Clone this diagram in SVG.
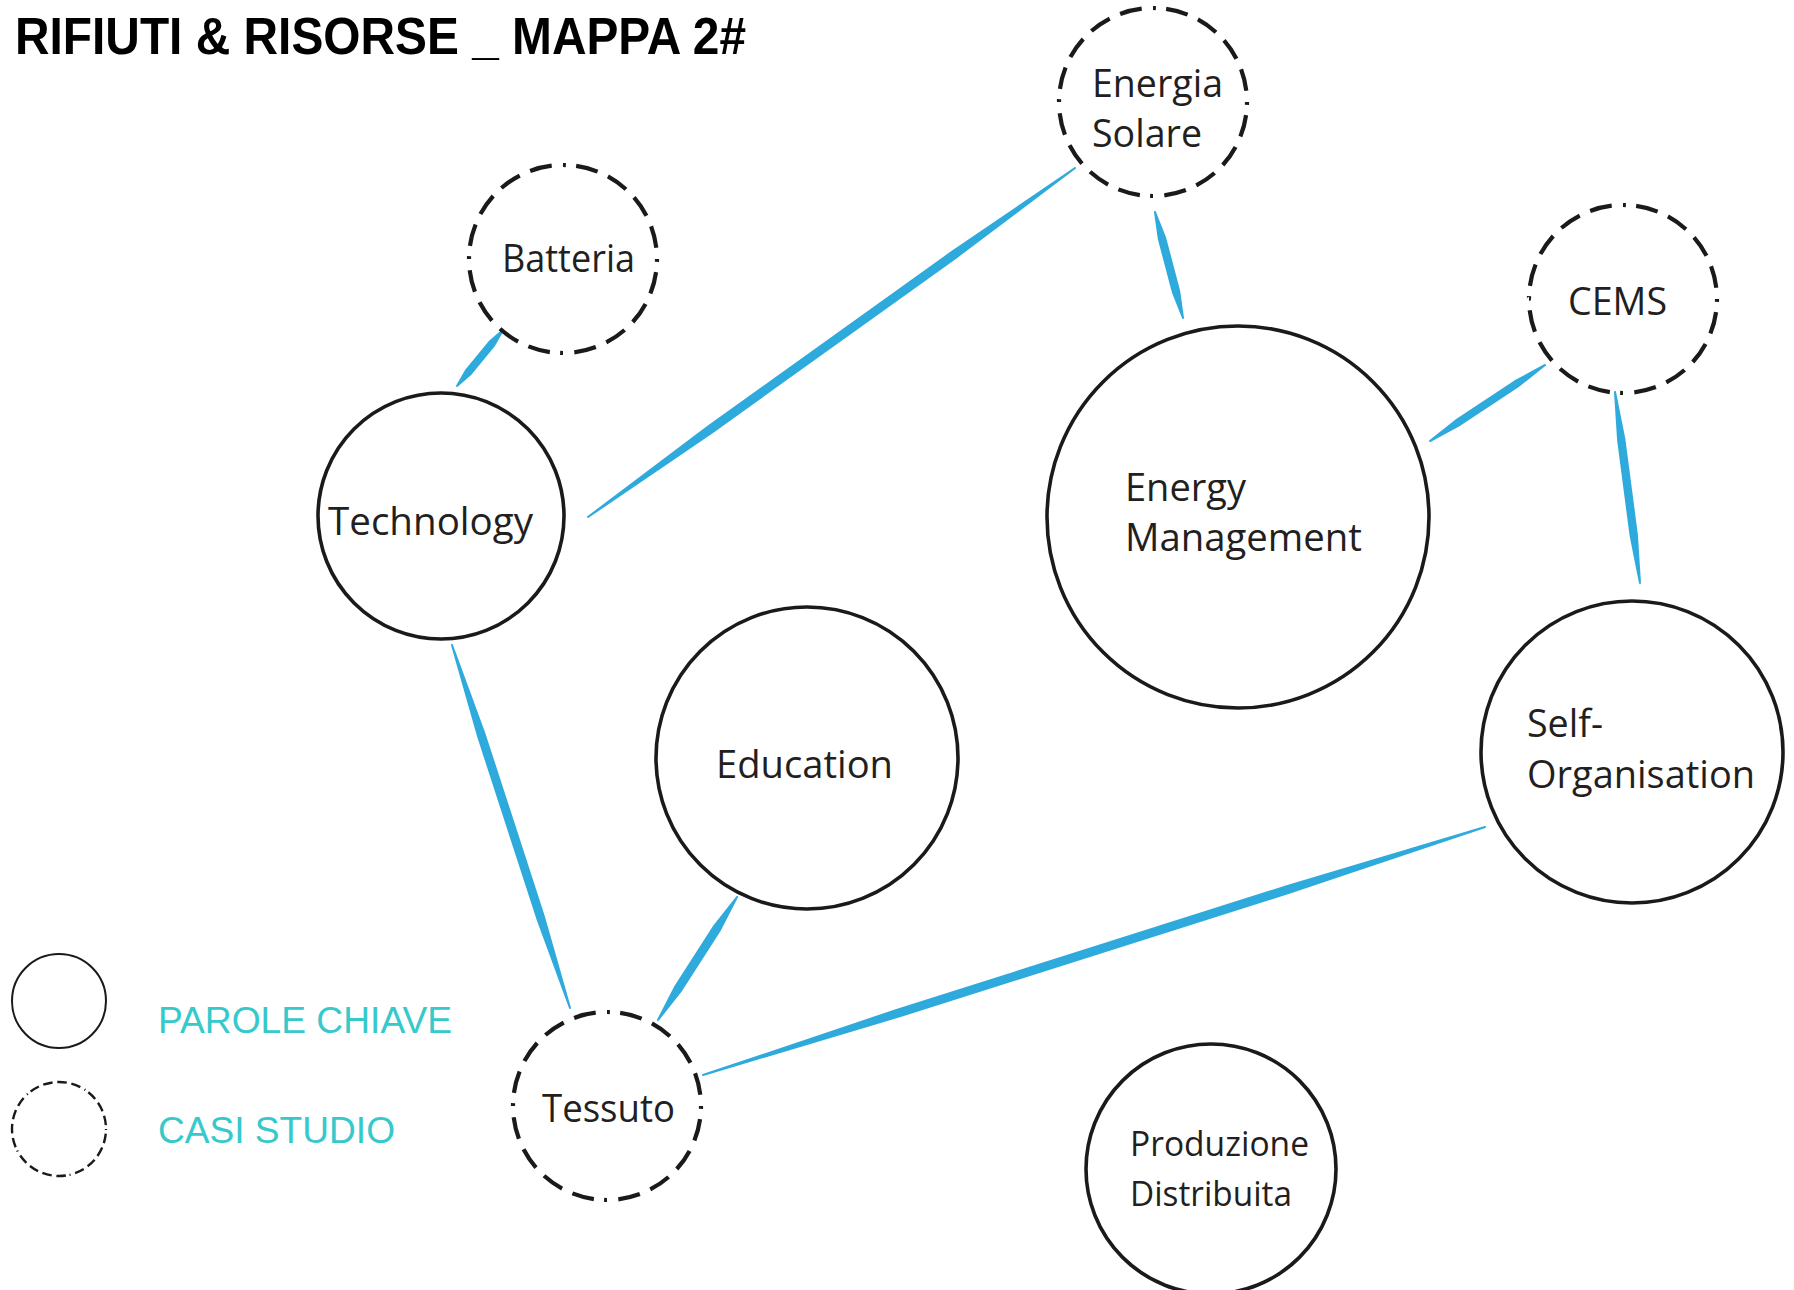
<svg xmlns="http://www.w3.org/2000/svg" width="1794" height="1290" viewBox="0 0 1794 1290">
<style>
.bg{fill:#ffffff}
.key{fill:none;stroke:#1a1a1a;stroke-width:3.6}
.case{fill:none;stroke:#1a1a1a;stroke-width:4.2;stroke-dasharray:2 7 15 7.75 15 7.75 15 7.75 15 7.75}
.lbl{font-family:"Open Sans","Noto Sans",sans-serif;font-size:38px;fill:#231f20}
.lbl2{font-family:"Open Sans","Noto Sans",sans-serif;font-size:35px;fill:#231f20}
.conn{fill:#2eaadc;stroke:#2eaadc;stroke-width:2;stroke-linejoin:round}
.legtxt{font-family:"Liberation Sans",Arial,sans-serif;font-size:36px;fill:#36c9cc}
.title{font-family:"Liberation Sans",Arial,sans-serif;font-weight:bold;font-size:52px;fill:#000}
</style>
<rect class="bg" x="0" y="0" width="1794" height="1290"/>
<text class="title" x="15" y="54" textLength="731" lengthAdjust="spacingAndGlyphs">RIFIUTI &amp; RISORSE _ MAPPA 2#</text>

<g id="connectors">
<polygon class="conn" points="503,330 489.2,342.1 466.2,370.1 457,386 470.8,373.9 493.8,345.9"/>
<polygon class="conn" points="588,517 711.8,432.6 955.3,258.1 1075,168 951.2,252.4 707.7,426.9"/>
<polygon class="conn" points="1155,212 1158.9,239.3 1172.9,292.3 1183,318 1179.1,290.7 1165.1,237.7"/>
<polygon class="conn" points="1545,365 1514.6,381.5 1457.1,419.5 1430,441 1460.4,424.5 1517.9,386.5"/>
<polygon class="conn" points="1615,392 1618.1,440.2 1630.6,535.7 1640,583 1636.9,534.8 1624.4,439.3"/>
<polygon class="conn" points="452,645 478.2,736.8 537.2,918.3 570,1008 543.8,916.2 484.8,734.7"/>
<polygon class="conn" points="737,897 714.3,925.9 674.8,987.4 658,1020 680.7,991.1 720.2,929.6"/>
<polygon class="conn" points="1485,827 1288.4,885.7 897.4,1009.7 703,1075 899.6,1016.3 1290.6,892.3"/>
</g>

<g id="node-energia-solare">
<circle class="case" cx="1153" cy="102" r="94" pathLength="400"/>
<text class="lbl" x="1092" y="97" textLength="131" lengthAdjust="spacingAndGlyphs">Energia</text>
<text class="lbl" x="1092" y="147" textLength="110" lengthAdjust="spacingAndGlyphs">Solare</text>
</g>
<g id="node-batteria">
<circle class="case" cx="563" cy="259" r="94" pathLength="400"/>
<text class="lbl" x="502" y="272" textLength="133" lengthAdjust="spacingAndGlyphs">Batteria</text>
</g>
<g id="node-cems">
<circle class="case" cx="1623" cy="299" r="94" pathLength="400"/>
<text class="lbl" x="1568" y="315" textLength="99" lengthAdjust="spacingAndGlyphs">CEMS</text>
</g>
<g id="node-tessuto">
<circle class="case" cx="607" cy="1106" r="94" pathLength="400"/>
<text class="lbl" x="542" y="1122" textLength="133" lengthAdjust="spacingAndGlyphs">Tessuto</text>
</g>
<g id="node-technology">
<circle class="key" cx="441" cy="516" r="123"/>
<text class="lbl" x="328" y="535" textLength="205" lengthAdjust="spacingAndGlyphs">Technology</text>
</g>
<g id="node-energy-management">
<circle class="key" cx="1238" cy="517" r="191"/>
<text class="lbl" x="1125" y="501" textLength="121" lengthAdjust="spacingAndGlyphs">Energy</text>
<text class="lbl" x="1125" y="551" textLength="237" lengthAdjust="spacingAndGlyphs">Management</text>
</g>
<g id="node-education">
<circle class="key" cx="807" cy="758" r="151"/>
<text class="lbl" x="716" y="778" textLength="177" lengthAdjust="spacingAndGlyphs">Education</text>
</g>
<g id="node-self-organisation">
<circle class="key" cx="1632" cy="752" r="151"/>
<text class="lbl" x="1527" y="737" textLength="76" lengthAdjust="spacingAndGlyphs">Self-</text>
<text class="lbl" x="1527" y="788" textLength="228" lengthAdjust="spacingAndGlyphs">Organisation</text>
</g>
<g id="node-produzione-distribuita">
<circle class="key" cx="1211" cy="1169" r="125"/>
<text class="lbl2" x="1130" y="1156" textLength="179" lengthAdjust="spacingAndGlyphs">Produzione</text>
<text class="lbl2" x="1130" y="1206" textLength="162" lengthAdjust="spacingAndGlyphs">Distribuita</text>
</g>

<g id="legend">
<circle cx="59" cy="1001" r="47" fill="none" stroke="#1a1a1a" stroke-width="2"/>
<text class="legtxt" x="158" y="1033" textLength="294" lengthAdjust="spacingAndGlyphs">PAROLE CHIAVE</text>
<circle cx="59" cy="1129" r="47" fill="none" stroke="#1a1a1a" stroke-width="2.4" stroke-dasharray="1.5 5 13 6.4 13 6.4 13 6.4 13 6.4" pathLength="400"/>
<text class="legtxt" x="158" y="1143" textLength="237" lengthAdjust="spacingAndGlyphs">CASI STUDIO</text>
</g>
</svg>
